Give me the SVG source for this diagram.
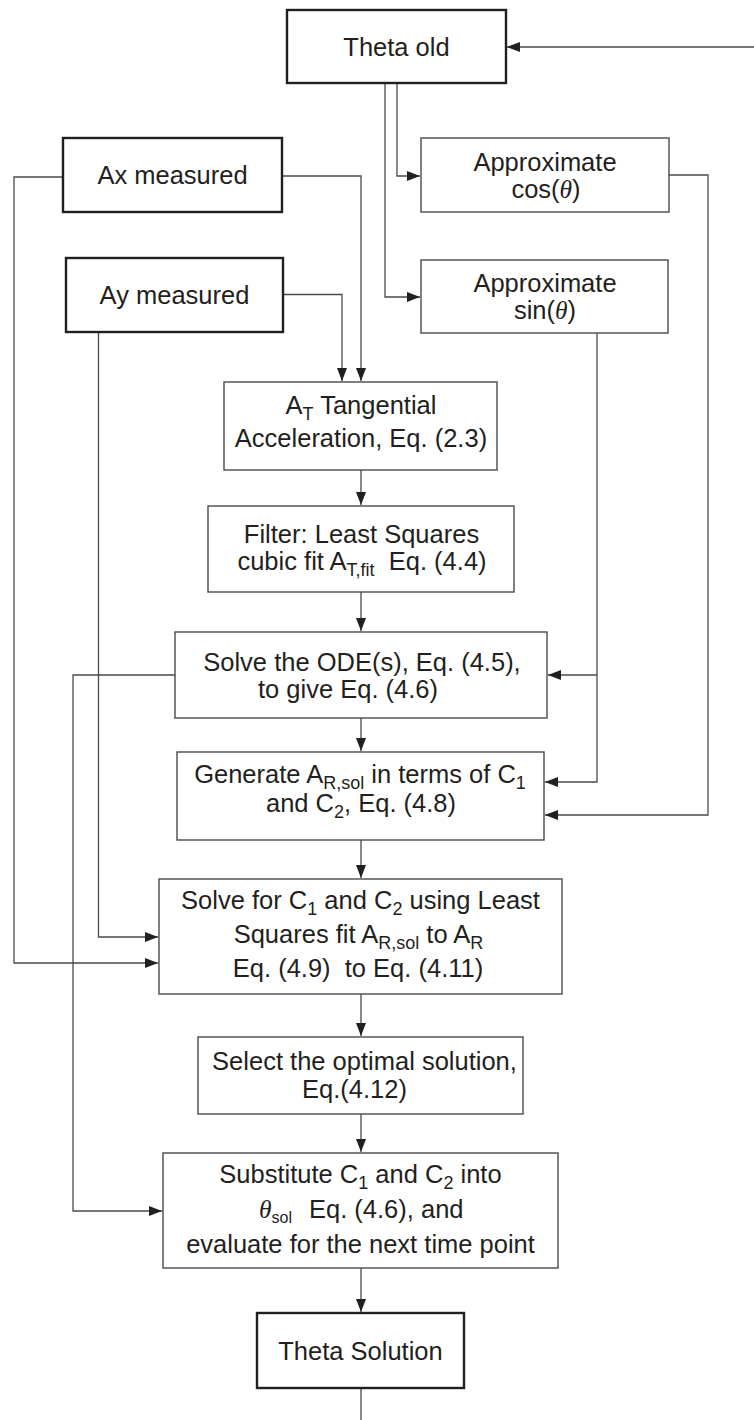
<svg xmlns="http://www.w3.org/2000/svg" width="754" height="1420" viewBox="0 0 754 1420">
<style>
.box{fill:#fff;stroke:#4a4a4a;stroke-width:1.4}
.bold{fill:#fff;stroke:#231f20;stroke-width:2.4}
.c{fill:none;stroke:#4a4a4a;stroke-width:1.3}
.t{font-family:"Liberation Sans",Arial,sans-serif;font-size:25.5px;fill:#231f20;text-anchor:middle;white-space:pre}
.th{font-family:"Liberation Serif","Times New Roman",serif;font-style:italic}
.s{font-size:18px}
</style>
<defs>
<marker id="ah" markerUnits="userSpaceOnUse" markerWidth="14" markerHeight="11" refX="13" refY="5" orient="auto">
<path d="M0,0 L13,5 L0,10 z" fill="#231f20"/>
</marker>
</defs>
<rect width="754" height="1420" fill="#fff"/>
<g id="connectors" class="c" marker-end="url(#ah)">
<path d="M754,47 H507"/>
<path d="M397,83 V176 H420"/>
<path d="M385,83 V297 H420"/>
<path d="M63,177 H14 V963 H158"/>
<path d="M282,176 H361 V381"/>
<path d="M283,294.5 H342 V381"/>
<path d="M98.5,332 V937 H158"/>
<path d="M669,175 H708 V815 H545"/>
<path d="M597,333 V782 H545"/>
<path d="M597,675 H548"/>
<path d="M175,675 H73 V1211 H162"/>
<path d="M361,470 V505"/>
<path d="M361,592 V631"/>
<path d="M361,718 V751"/>
<path d="M361,840 V878"/>
<path d="M361,994 V1036"/>
<path d="M361,1114 V1152"/>
<path d="M361,1268 V1312"/>
<path d="M361,1388 V1420" marker-end="none"/>
</g>
<g id="theta-old"><rect class="bold" x="287" y="10" width="219" height="73"/><text class="t" x="396.5" y="56">Theta old</text></g>
<g id="ax"><rect class="bold" x="63" y="138" width="219" height="74"/><text class="t" x="172.5" y="184">Ax measured</text></g>
<g id="ay"><rect class="bold" x="66" y="258" width="217" height="74"/><text class="t" x="174.5" y="304">Ay measured</text></g>
<g id="cos"><rect class="box" x="421" y="138" width="248" height="74"/><text class="t" x="545" y="170.5">Approximate</text><text class="t" x="546" y="197.5">cos(<tspan class="th">θ</tspan>)</text></g>
<g id="sin"><rect class="box" x="421" y="260" width="247" height="73"/><text class="t" x="545" y="292">Approximate</text><text class="t" x="545" y="319">sin(<tspan class="th">θ</tspan>)</text></g>
<g id="at"><rect class="box" x="224" y="382" width="273" height="88"/><text class="t" x="361" y="414">A<tspan class="s" dy="6">T</tspan><tspan dy="-6"> Tangential</tspan></text><text class="t" x="361" y="447">Acceleration, Eq. (2.3)</text></g>
<g id="filter"><rect class="box" x="208" y="506" width="306" height="86"/><text class="t" x="361.5" y="543">Filter: Least Squares</text><text class="t" x="362" y="570">cubic fit A<tspan class="s" dy="6">T,fit</tspan><tspan dy="-6">  Eq. (4.4)</tspan></text></g>
<g id="ode"><rect class="box" x="175" y="632" width="372" height="86"/><text class="t" x="362" y="670.5">Solve the ODE(s), Eq. (4.5),</text><text class="t" x="348" y="697.5">to give Eq. (4.6)</text></g>
<g id="generate"><rect class="box" x="177" y="752" width="367" height="88"/><text class="t" x="360" y="783">Generate A<tspan class="s" dy="6">R,sol</tspan><tspan dy="-6"> in terms of C</tspan><tspan class="s" dy="6">1</tspan></text><text class="t" x="361" y="812">and C<tspan class="s" dy="6">2</tspan><tspan dy="-6">, Eq. (4.8)</tspan></text></g>
<g id="solve-c"><rect class="box" x="159" y="879" width="403" height="115"/><text class="t" x="360.5" y="909">Solve for C<tspan class="s" dy="6">1</tspan><tspan dy="-6"> and C</tspan><tspan class="s" dy="6">2</tspan><tspan dy="-6"> using Least</tspan></text><text class="t" x="358.5" y="943">Squares fit A<tspan class="s" dy="6">R,sol</tspan><tspan dy="-6"> to A</tspan><tspan class="s" dy="6">R</tspan></text><text class="t" x="358" y="977">Eq. (4.9)  to Eq. (4.11)</text></g>
<g id="select"><rect class="box" x="198" y="1037" width="325" height="77"/><text class="t" x="364.5" y="1070">Select the optimal solution,</text><text class="t" x="354.5" y="1098">Eq.(4.12)</text></g>
<g id="substitute"><rect class="box" x="163" y="1153" width="395" height="115"/><text class="t" x="360.5" y="1183">Substitute C<tspan class="s" dy="6">1</tspan><tspan dy="-6"> and C</tspan><tspan class="s" dy="6">2</tspan><tspan dy="-6"> into</tspan></text><text class="t" x="259" y="1218" style="text-anchor:start"><tspan class="th">θ</tspan><tspan font-size="16" dy="5">sol</tspan><tspan x="309" dy="-5">Eq. (4.6), and</tspan></text><text class="t" x="360.5" y="1253">evaluate for the next time point</text></g>
<g id="theta-solution"><rect class="bold" x="257" y="1313" width="207" height="75"/><text class="t" x="360.5" y="1360">Theta Solution</text></g>
</svg>
